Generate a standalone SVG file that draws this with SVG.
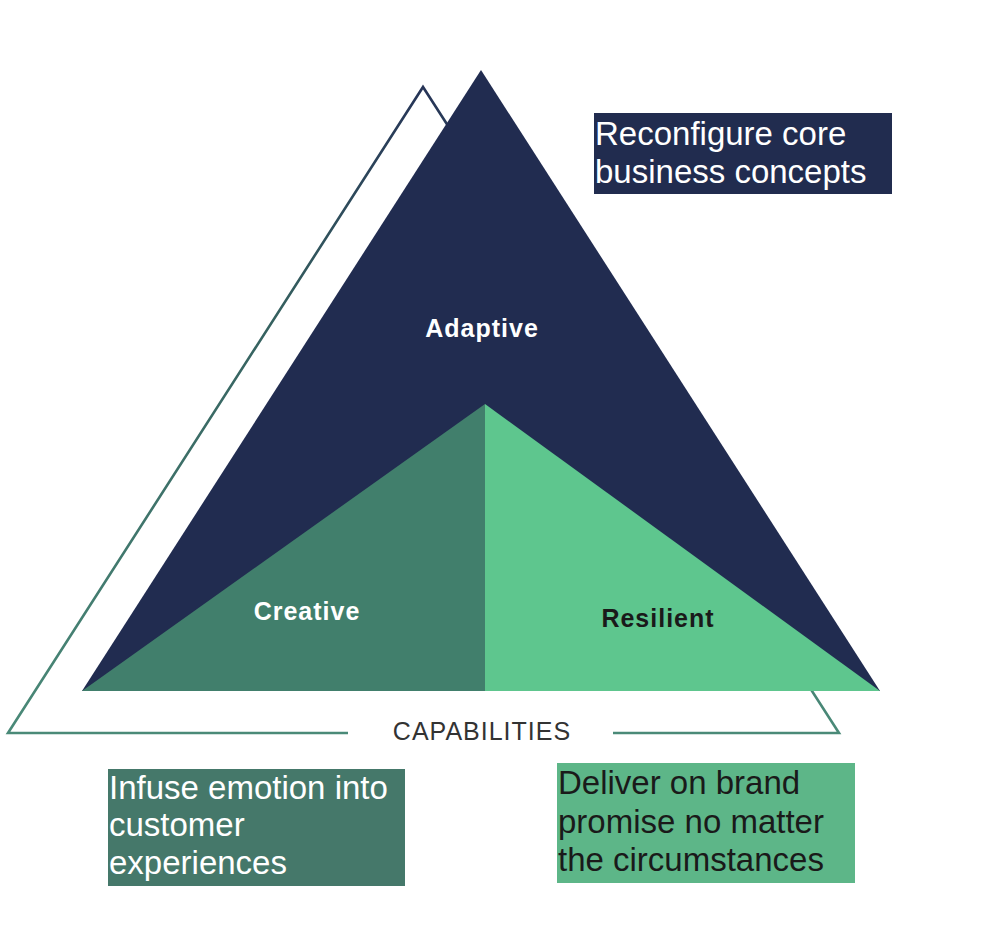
<svg xmlns="http://www.w3.org/2000/svg" width="996" height="944" viewBox="0 0 996 944">
<defs>
<linearGradient id="outlineGrad" x1="0" y1="87" x2="0" y2="733" gradientUnits="userSpaceOnUse">
<stop offset="0" stop-color="#263457"/>
<stop offset="0.35" stop-color="#35605F"/>
<stop offset="1" stop-color="#4A8A78"/>
</linearGradient>
</defs>
<style>
.lbl{font-family:"Liberation Sans",Arial,sans-serif;font-weight:bold;font-size:25px;letter-spacing:1px;text-anchor:middle}
.box{font-family:"Liberation Sans",Arial,sans-serif;font-size:33px}
.outline{fill:none;stroke:url(#outlineGrad);stroke-width:2.6;stroke-linejoin:miter}
</style>
<rect width="996" height="944" fill="#ffffff"/>
<g id="outline-triangle">
<polyline class="outline" points="348,733 8,733 423,87 839,733 613,733"/>
</g>
<g id="adaptive">
<polygon points="481,70 880,691 82,691" fill="#212C50"/>
<text class="lbl" x="482" y="337" fill="#ffffff">Adaptive</text>
</g>
<g id="creative">
<polygon points="485,404 485,691 82,691" fill="#417F6C"/>
<text class="lbl" x="307" y="620" fill="#ffffff">Creative</text>
</g>
<g id="resilient">
<polygon points="485,404 880,691 485,691" fill="#5EC68E"/>
<text class="lbl" x="658" y="627" fill="#1a1a1a">Resilient</text>
</g>
<g id="capabilities">
<text x="482" y="740" font-family="'Liberation Sans',Arial,sans-serif" font-size="25" letter-spacing="1" fill="#333333" text-anchor="middle">CAPABILITIES</text>
</g>
<g id="box-adaptive">
<rect x="594" y="113" width="298" height="81" fill="#212C4F"/>
<text class="box" fill="#ffffff"><tspan x="595" y="145">Reconfigure core</tspan><tspan x="595" y="183">business concepts</tspan></text>
</g>
<g id="box-creative">
<rect x="108" y="769" width="297" height="117" fill="#45786A"/>
<text class="box" fill="#ffffff"><tspan x="109" y="799">Infuse emotion into</tspan><tspan x="109" y="836">customer</tspan><tspan x="109" y="874">experiences</tspan></text>
</g>
<g id="box-resilient">
<rect x="557" y="763" width="298" height="120" fill="#5DB688"/>
<text class="box" fill="#1a1a1a"><tspan x="558" y="794">Deliver on brand</tspan><tspan x="558" y="833">promise no matter</tspan><tspan x="558" y="871">the circumstances</tspan></text>
</g>
</svg>
